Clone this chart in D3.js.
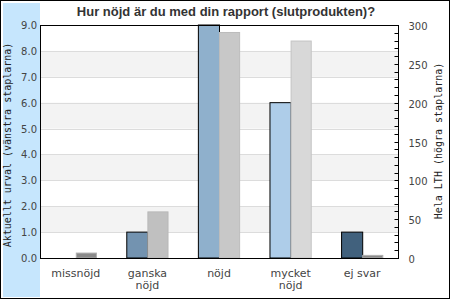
<!DOCTYPE html>
<html>
<head>
<meta charset="utf-8">
<script src="https://cdn.jsdelivr.net/npm/d3@7"></script>
<style>
  body { margin: 0; background: #fff; }
  svg { display: block; }
</style>
</head>
<body>
<svg id="chart" width="450" height="300"></svg>
<script>
// data
const categories = ['missnöjd', 'ganska nöjd', 'nöjd', 'mycket nöjd', 'ej svar']
const urvalValues = [0, 1, 9, 6, 1]          // left axis, aktuellt urval
const lthValues = [7, 60, 291, 280, 4]       // right axis, hela LTH
const leftTicks = [0, 1, 2, 3, 4, 5, 6, 7, 8, 9]
const rightTicks = [0, 50, 100, 150, 200, 250, 300]

const urvalColors = ['#2a4a66', '#7393b0', '#8fb0cc', '#aecde9', '#41617d']
const lthColors = ['#8a8a8a', '#c0c0c0', '#c8c8c8', '#d8d8d8', '#8a8a8a']
const lthStrokes = ['#b0b0b0', '#b8b8b8', '#bcbcbc', '#c4c4c4', '#b0b0b0']

const W = 450, H = 300
const pLeft = 40, pRight = 398, pTop = 25, pBottom = 258

const svg = d3.select('#chart')

// outer frame + blue side panel
svg.append('rect').attr('x', 0.5).attr('y', 0.5).attr('width', W - 1).attr('height', H - 2)
  .attr('fill', '#fff').attr('stroke', '#000')
svg.append('rect').attr('x', 3).attr('y', 3).attr('width', pLeft - 3).attr('height', 294)
  .attr('fill', '#c6e6fd')

const x0 = d3.scaleBand().domain(categories).range([pLeft, pRight])
  .paddingInner(0.41).paddingOuter(0.205)
const x1 = d3.scaleBand().domain(['urval', 'lth']).range([0, x0.bandwidth()])
const yL = d3.scaleLinear().domain([0, 9]).range([pBottom, pTop])
const yR = d3.scaleLinear().domain([0, 300]).range([pBottom, pTop])

// alternating bands
svg.append('g').selectAll('rect')
  .data(leftTicks.slice(0, -1).filter(d => d % 2 == 1))
  .enter().append('rect')
  .attr('x', pLeft).attr('width', pRight - pLeft)
  .attr('y', d => yL(d + 1)).attr('height', d => yL(d) - yL(d + 1))
  .attr('fill', '#f3f3f3')

// grid lines
svg.append('g').selectAll('line')
  .data(leftTicks.slice(1, -1))
  .enter().append('line')
  .attr('x1', pLeft).attr('x2', pRight)
  .attr('y1', d => Math.round(yL(d)) + 0.5).attr('y2', d => Math.round(yL(d)) + 0.5)
  .attr('stroke', '#dcdcdc')

// bars
const groups = svg.append('g').selectAll('g')
  .data(categories)
  .enter().append('g')
  .attr('transform', d => 'translate(' + x0(d) + ',0)')

groups.append('rect')
  .attr('x', x1('urval') + 0.5)
  .attr('width', x1.bandwidth())
  .attr('y', (d, i) => yL(urvalValues[i]))
  .attr('height', (d, i) => pBottom - yL(urvalValues[i]))
  .attr('fill', (d, i) => urvalColors[i])
  .attr('stroke', (d, i) => urvalValues[i] > 0 ? '#000' : 'none')

groups.append('rect')
  .attr('x', x1('lth') + 0.5)
  .attr('width', x1.bandwidth() - 1)
  .attr('y', (d, i) => yR(lthValues[i]) + 0.5)
  .attr('height', (d, i) => pBottom - yR(lthValues[i]) - 0.5)
  .attr('fill', (d, i) => lthColors[i])
  .attr('stroke', (d, i) => lthStrokes[i])

// plot frame
svg.append('rect').attr('x', pLeft + 0.5).attr('y', pTop + 0.5)
  .attr('width', pRight - pLeft).attr('height', pBottom - pTop)
  .attr('fill', 'none').attr('stroke', '#000')

// left tick labels (no tick marks)
svg.append('g').selectAll('text')
  .data(leftTicks)
  .enter().append('text')
  .attr('x', pLeft - 3).attr('y', d => yL(d) + 4)
  .attr('text-anchor', 'end')
  .style('font', '10px "DejaVu Sans"').attr('fill', '#444')
  .text(d => d.toFixed(1))

// right axis, inward minor ticks every 10
const rAxis = d3.axisRight(yR).tickValues(rightTicks).tickSize(0).tickPadding(10)
  .tickFormat(d3.format('d'))
const rg = svg.append('g').attr('transform', 'translate(' + (pRight + 0.5) + ',0)').call(rAxis)
rg.select('.domain').remove()
rg.selectAll('text').style('font', '10px "DejaVu Sans"').attr('fill', '#444').attr('dy', '0.45em')
rg.selectAll('.minor')
  .data(d3.range(10, 300, 10))
  .enter().append('line').attr('class', 'minor')
  .attr('x1', -4).attr('x2', 0)
  .attr('y1', d => Math.round(yR(d)) + 0.5).attr('y2', d => Math.round(yR(d)) + 0.5)
  .attr('stroke', '#000')

// category labels
const catLabels = svg.append('g').selectAll('text')
  .data(categories)
  .enter().append('text')
  .attr('x', d => x0(d) + x0.bandwidth() / 2)
  .attr('y', 277)
  .attr('text-anchor', 'middle')
  .style('font', '11px "DejaVu Sans"').attr('fill', '#444')
catLabels.selectAll('tspan')
  .data(d => d == 'ej svar' ? [d] : d.split(' '))
  .enter().append('tspan')
  .attr('x', function () { return this.parentNode.getAttribute('x') })
  .attr('dy', (d, i) => i == 0 ? 0 : 12)
  .text(d => d)

// title
svg.append('text').attr('x', 226).attr('y', 16)
  .attr('text-anchor', 'middle')
  .style('font', 'bold 13px "Liberation Sans", Arial')
  .attr('fill', '#333')
  .text('Hur nöjd är du med din rapport (slutprodukten)?')

// axis titles
svg.append('text')
  .attr('transform', 'translate(11,' + 145 + ') rotate(-90)')
  .attr('text-anchor', 'middle')
  .style('font', '10px "DejaVu Sans Mono"').attr('fill', '#222')
  .text('Aktuellt urval (vänstra staplarna)')
svg.append('text')
  .attr('transform', 'translate(442,' + 141 + ') rotate(-90)')
  .attr('text-anchor', 'middle')
  .style('font', '10px "DejaVu Sans Mono"').attr('fill', '#222')
  .text('Hela LTH (högra staplarna)')
</script>
</body>
</html>
